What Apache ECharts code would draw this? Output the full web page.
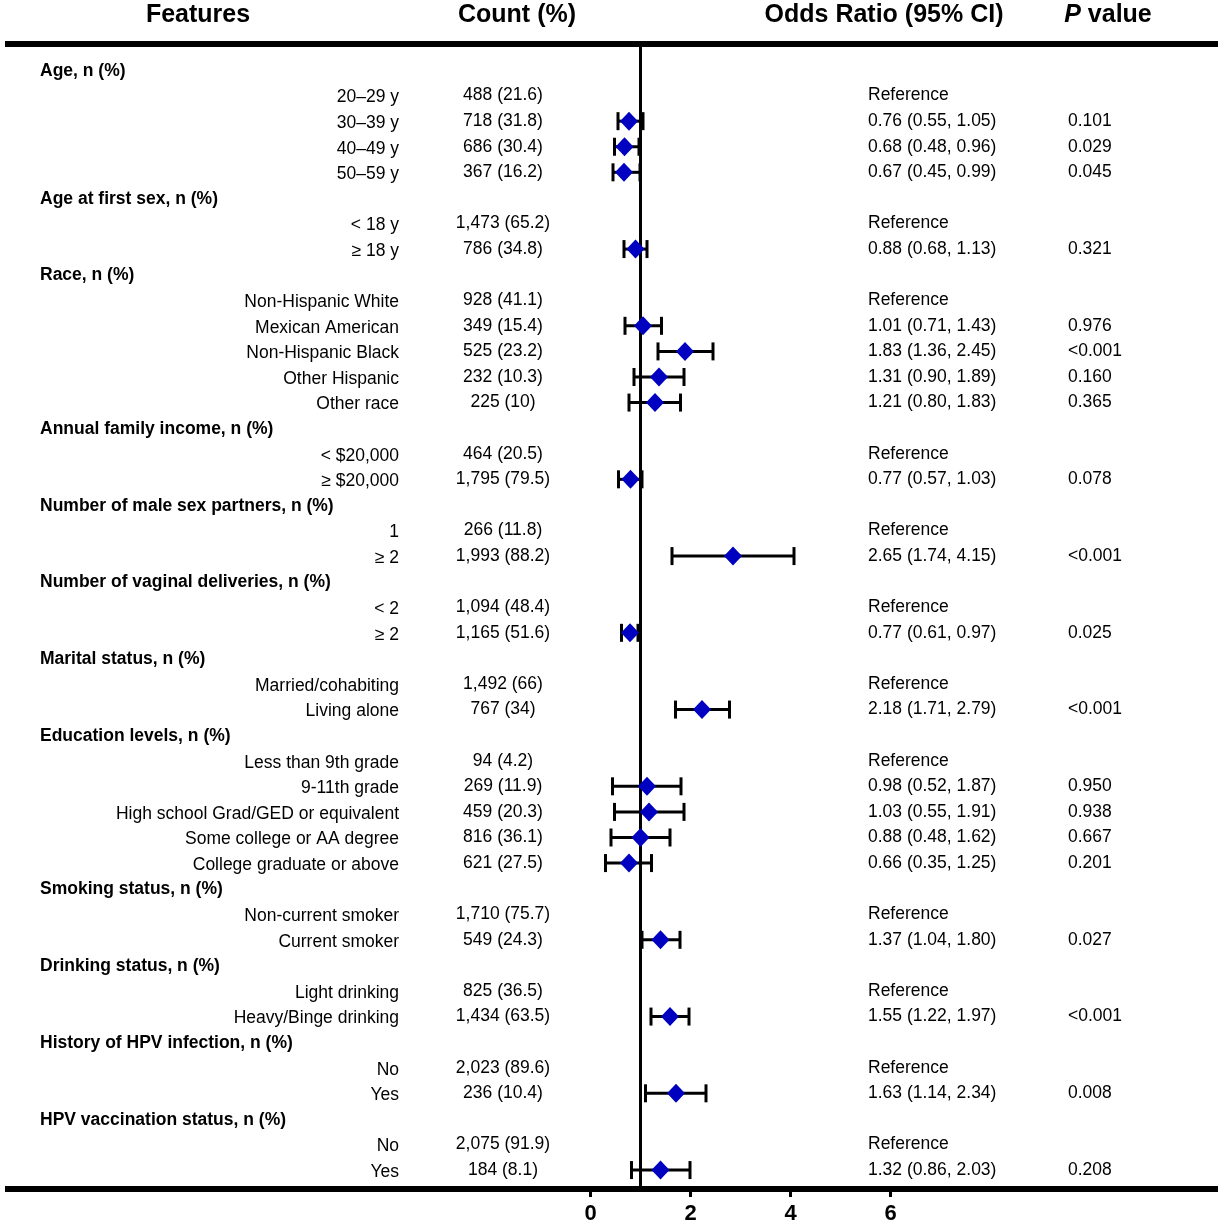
<!DOCTYPE html>
<html>
<head>
<meta charset="utf-8">
<title>Forest plot</title>
<script src="https://cdn.jsdelivr.net/npm/echarts@6/dist/echarts.min.js"></script>
<style>
  html, body { margin: 0; padding: 0; background: #fff; }
  #chart { width: 1222px; height: 1228px; }
</style>
</head>
<body>
<div id="chart"></div>
<script>
// ---------------- DATA ----------------
const headers = ["Features", "Count (%)", "Odds Ratio (95% CI)", "P value"];

const features = [
  "Age, n (%)", "20–29 y", "30–39 y", "40–49 y", "50–59 y",
  "Age at first sex, n (%)", "< 18 y", "≥ 18 y",
  "Race, n (%)", "Non-Hispanic White", "Mexican American", "Non-Hispanic Black", "Other Hispanic", "Other race",
  "Annual family income, n (%)", "< $20,000", "≥ $20,000",
  "Number of male sex partners, n (%)", "1", "≥ 2",
  "Number of vaginal deliveries, n (%)", "< 2", "≥ 2",
  "Marital status, n (%)", "Married/cohabiting", "Living alone",
  "Education levels, n (%)", "Less than 9th grade", "9-11th grade", "High school Grad/GED or equivalent", "Some college or AA degree", "College graduate or above",
  "Smoking status, n (%)", "Non-current smoker", "Current smoker",
  "Drinking status, n (%)", "Light drinking", "Heavy/Binge drinking",
  "History of HPV infection, n (%)", "No", "Yes",
  "HPV vaccination status, n (%)", "No", "Yes"
];

const counts = [
  "", "488 (21.6)", "718 (31.8)", "686 (30.4)", "367 (16.2)",
  "", "1,473 (65.2)", "786 (34.8)",
  "", "928 (41.1)", "349 (15.4)", "525 (23.2)", "232 (10.3)", "225 (10)",
  "", "464 (20.5)", "1,795 (79.5)",
  "", "266 (11.8)", "1,993 (88.2)",
  "", "1,094 (48.4)", "1,165 (51.6)",
  "", "1,492 (66)", "767 (34)",
  "", "94 (4.2)", "269 (11.9)", "459 (20.3)", "816 (36.1)", "621 (27.5)",
  "", "1,710 (75.7)", "549 (24.3)",
  "", "825 (36.5)", "1,434 (63.5)",
  "", "2,023 (89.6)", "236 (10.4)",
  "", "2,075 (91.9)", "184 (8.1)"
];

const orText = [
  "", "Reference", "0.76 (0.55, 1.05)", "0.68 (0.48, 0.96)", "0.67 (0.45, 0.99)",
  "", "Reference", "0.88 (0.68, 1.13)",
  "", "Reference", "1.01 (0.71, 1.43)", "1.83 (1.36, 2.45)", "1.31 (0.90, 1.89)", "1.21 (0.80, 1.83)",
  "", "Reference", "0.77 (0.57, 1.03)",
  "", "Reference", "2.65 (1.74, 4.15)",
  "", "Reference", "0.77 (0.61, 0.97)",
  "", "Reference", "2.18 (1.71, 2.79)",
  "", "Reference", "0.98 (0.52, 1.87)", "1.03 (0.55, 1.91)", "0.88 (0.48, 1.62)", "0.66 (0.35, 1.25)",
  "", "Reference", "1.37 (1.04, 1.80)",
  "", "Reference", "1.55 (1.22, 1.97)",
  "", "Reference", "1.63 (1.14, 2.34)",
  "", "Reference", "1.32 (0.86, 2.03)"
];

const pText = [
  "", "", "0.101", "0.029", "0.045",
  "", "", "0.321",
  "", "", "0.976", "<0.001", "0.160", "0.365",
  "", "", "0.078",
  "", "", "<0.001",
  "", "", "0.025",
  "", "", "<0.001",
  "", "", "0.950", "0.938", "0.667", "0.201",
  "", "", "0.027",
  "", "", "<0.001",
  "", "", "0.008",
  "", "", "0.208"
];

// plotted marks
const orPlot = [
  null, null, 0.77, 0.68, 0.67,
  null, null, 0.90,
  null, null, 1.05, 1.89, 1.37, 1.29,
  null, null, 0.80,
  null, null, 2.85,
  null, null, 0.79,
  null, null, 2.23,
  null, null, 1.13, 1.17, 1.00, 0.77,
  null, null, 1.40,
  null, null, 1.59,
  null, null, 1.71,
  null, null, 1.40
];
const ciLow = [
  null, null, 0.55, 0.48, 0.45,
  null, null, 0.67,
  null, null, 0.69, 1.35, 0.87, 0.77,
  null, null, 0.56,
  null, null, 1.63,
  null, null, 0.62,
  null, null, 1.70,
  null, null, 0.44, 0.48, 0.41, 0.30,
  null, null, 1.03,
  null, null, 1.21,
  null, null, 1.10,
  null, null, 0.82
];
const ciHigh = [
  null, null, 1.05, 0.97, 0.99,
  null, null, 1.13,
  null, null, 1.42, 2.45, 1.87, 1.80,
  null, null, 1.03,
  null, null, 4.07,
  null, null, 0.95,
  null, null, 2.78,
  null, null, 1.81, 1.87, 1.59, 1.22,
  null, null, 1.79,
  null, null, 1.97,
  null, null, 2.31,
  null, null, 1.99
];
const xTicks = [0, 2, 4, 6];
const refValue = 1;

// ---------------- CHART ----------------
const FONT = '"Liberation Sans", Arial, Helvetica, sans-serif';
const chart = echarts.init(document.getElementById('chart'), null, { renderer: 'canvas' });

const textData = features.map((_, i) => [0, i]);
const barData = [];
const pointData = [];
orPlot.forEach((v, i) => {
  if (v !== null) {
    barData.push([ciLow[i], ciHigh[i], i]);
    pointData.push([v, i]);
  }
});

function isHeader(label) { return /n \(%\)$/.test(label); }

const option = {
  animation: false,
  backgroundColor: '#ffffff',
  grid: { left: 5, right: 4, top: 44, bottom: 39, containLabel: false },
  xAxis: [
    {
      type: 'value', position: 'bottom',
      min: -11.71, max: 12.55,
      splitLine: { show: false },
      axisLine: { show: true, onZero: false, lineStyle: { color: '#000', width: 6, cap: 'butt' } },
      axisTick: { show: true, customValues: xTicks, length: 8, lineStyle: { color: '#000', width: 3 } },
      axisLabel: { show: true, customValues: xTicks, margin: 14, color: '#000',
        fontFamily: FONT, fontWeight: 'bold', fontSize: 22 }
    },
    {
      type: 'value', position: 'top',
      min: -11.71, max: 12.55,
      splitLine: { show: false },
      axisLine: { show: true, onZero: false, lineStyle: { color: '#000', width: 6, cap: 'butt' } },
      axisTick: { show: false },
      axisLabel: { show: false }
    }
  ],
  yAxis: {
    type: 'value', inverse: true, min: -1.016, max: 43.74, show: false
  },
  graphic: [
    { type: 'text', x: 198, y: 15, style: { text: headers[0], font: `bold 25px ${FONT}`, fill: '#000', align: 'center', verticalAlign: 'middle' } },
    { type: 'text', x: 517, y: 15, style: { text: headers[1], font: `bold 25px ${FONT}`, fill: '#000', align: 'center', verticalAlign: 'middle' } },
    { type: 'text', x: 884, y: 15, style: { text: headers[2], font: `bold 25px ${FONT}`, fill: '#000', align: 'center', verticalAlign: 'middle' } },
    { type: 'text', x: 1108, y: 15, style: {
        text: '{i|' + headers[3].split(' ')[0] + '}{b| ' + headers[3].split(' ').slice(1).join(' ') + '}',
        align: 'center', verticalAlign: 'middle', fill: '#000',
        rich: {
          i: { font: `italic bold 25px ${FONT}`, fill: '#000' },
          b: { font: `bold 25px ${FONT}`, fill: '#000' }
        }
      } }
  ],
  series: [
    {
      type: 'custom', name: 'text', clip: false, silent: true,
      data: textData,
      renderItem: function (params, api) {
        const i = params.dataIndex;
        const y = api.coord([0, i])[1];
        const label = features[i];
        const kids = [];
        if (isHeader(label)) {
          kids.push({ type: 'text', x: 40, y: y + 1, style: { text: label, font: `bold 17.5px ${FONT}`, fill: '#000', align: 'left', verticalAlign: 'middle' } });
        } else {
          kids.push({ type: 'text', x: 399, y: y + 2, style: { text: label, font: `17.5px ${FONT}`, fill: '#000', align: 'right', verticalAlign: 'middle' } });
        }
        if (counts[i]) kids.push({ type: 'text', x: 503, y: y, style: { text: counts[i], font: `17.5px ${FONT}`, fill: '#000', align: 'center', verticalAlign: 'middle' } });
        if (orText[i]) kids.push({ type: 'text', x: 868, y: y, style: { text: orText[i], font: `17.5px ${FONT}`, fill: '#000', align: 'left', verticalAlign: 'middle' } });
        if (pText[i]) kids.push({ type: 'text', x: 1068, y: y, style: { text: pText[i], font: `17.5px ${FONT}`, fill: '#000', align: 'left', verticalAlign: 'middle' } });
        return { type: 'group', children: kids };
      }
    },
    {
      type: 'custom', name: 'ci', clip: false, silent: true, z: 3,
      data: barData,
      encode: { x: [0, 1], y: 2 },
      renderItem: function (params, api) {
        const row = api.value(2);
        const a = api.coord([api.value(0), row]);
        const b = api.coord([api.value(1), row]);
        const h = 9;
        const st = { stroke: '#000', lineWidth: 3 };
        return {
          type: 'group',
          children: [
            { type: 'line', shape: { x1: a[0], y1: a[1], x2: b[0], y2: b[1] }, style: st },
            { type: 'line', shape: { x1: a[0], y1: a[1] - h, x2: a[0], y2: a[1] + h }, style: st },
            { type: 'line', shape: { x1: b[0], y1: b[1] - h, x2: b[0], y2: b[1] + h }, style: st }
          ]
        };
      },
      markLine: {
        silent: true, symbol: 'none', label: { show: false },
        lineStyle: { color: '#000', width: 3, type: 'solid' },
        data: [{ xAxis: refValue }]
      }
    },
    {
      type: 'scatter', name: 'OR', z: 5,
      data: pointData,
      symbol: 'diamond', symbolSize: [18, 19],
      itemStyle: { color: '#0000c0', opacity: 1 }
    }
  ]
};
chart.setOption(option);
</script>
</body>
</html>
